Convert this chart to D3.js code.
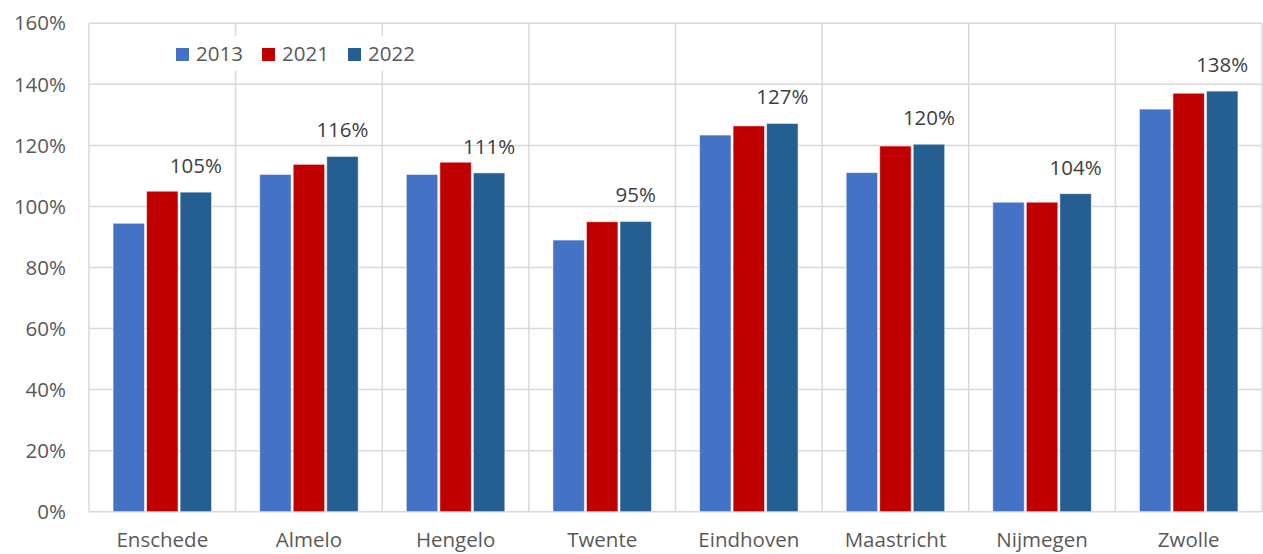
<!DOCTYPE html>
<html>
<head>
<meta charset="utf-8">
<script src="https://cdn.jsdelivr.net/npm/d3@7"></script>
<style>
  html, body { margin: 0; padding: 0; background: #fff; }
  svg { display: block; font-family: "Open Sans", "Noto Sans", sans-serif; }
</style>
</head>
<body>
<svg id="chart" width="1263" height="554"></svg>
<script>
const categories = ["Enschede", "Almelo", "Hengelo", "Twente", "Eindhoven", "Maastricht", "Nijmegen", "Zwolle"];
const seriesNames = ["2013", "2021", "2022"];
const values2013 = [94.5, 110.5, 110.5, 89.0, 123.4, 111.1, 101.4, 131.9];
const values2021 = [105.0, 113.8, 114.5, 95.0, 126.4, 119.8, 101.4, 137.1];
const values2022 = [104.7, 116.4, 111.0, 95.1, 127.2, 120.4, 104.2, 137.8];
const yTicks = [0, 20, 40, 60, 80, 100, 120, 140, 160];
const colors = ["#4472C4", "#C00000", "#255E91"];

const seriesValues = [values2013, values2021, values2022];

const svg = d3.select("#chart");
const pLeft = 89, pRight = 1262, pTop = 23.3, pBottom = 511.7;
const fs = 20.5;

const x0 = d3.scaleBand().domain(categories).range([pLeft, pRight]).padding(0);
const bw = x0.bandwidth();
const x1 = d3.scaleBand().domain(seriesNames).range([bw * 0.157, bw * 0.843]).padding(0);
const y = d3.scaleLinear().domain([0, 160]).range([pBottom, pTop]);

const grid = "#D9D9D9";

// horizontal gridlines
svg.append("g").selectAll("line").data(yTicks).join("line")
  .attr("x1", pLeft).attr("x2", pRight)
  .attr("y1", d => y(d)).attr("y2", d => y(d))
  .attr("stroke", grid).attr("stroke-width", 1.5);

// vertical gridlines at category boundaries
const bounds = categories.map(c => x0(c)).concat([pRight]);
svg.append("g").selectAll("line").data(bounds).join("line")
  .attr("x1", d => d).attr("x2", d => d)
  .attr("y1", pTop).attr("y2", pBottom)
  .attr("stroke", grid).attr("stroke-width", 1.5);

// y tick labels
svg.append("g").selectAll("text").data(yTicks).join("text")
  .attr("x", 66).attr("y", d => y(d))
  .attr("dy", "0.35em")
  .attr("text-anchor", "end")
  .attr("fill", "#595959")
  .attr("font-size", fs)
  .text(d => d + "%");

// bars
const groups = svg.append("g").selectAll("g").data(categories).join("g")
  .attr("transform", c => `translate(${x0(c)},0)`);

groups.selectAll("rect").data((c, i) => seriesNames.map((s, k) => ({ s, k, v: seriesValues[k][i] })))
  .join("rect")
  .attr("x", d => x1(d.s) + 1)
  .attr("width", x1.bandwidth() - 2)
  .attr("y", d => y(d.v))
  .attr("height", d => y(0) - y(d.v))
  .attr("fill", d => colors[d.k])
  .attr("stroke", "#fff")
  .attr("stroke-opacity", 0.6)
  .attr("stroke-width", 1);

// data labels on 2022
groups.append("text")
  .attr("x", x1("2022") + x1.bandwidth() / 2)
  .attr("y", (c, i) => y(values2022[i]) - 19)
  .attr("text-anchor", "middle")
  .attr("fill", "#404040")
  .attr("font-size", fs)
  .text((c, i) => Math.round(values2022[i]) + "%");

// category labels
svg.append("g").selectAll("text").data(categories).join("text")
  .attr("x", c => x0(c) + bw / 2)
  .attr("y", 547)
  .attr("text-anchor", "middle")
  .attr("fill", "#595959")
  .attr("font-size", fs)
  .text(c => c);

// legend
const legend = svg.append("g");
legend.append("rect").attr("x", 165).attr("y", 36).attr("width", 262).attr("height", 35).attr("fill", "#fff");
const legX = [176, 262, 348];
seriesNames.forEach((s, k) => {
  legend.append("rect").attr("x", legX[k]).attr("y", 48).attr("width", 13).attr("height", 13).attr("fill", colors[k]);
  legend.append("text").attr("x", legX[k] + 20).attr("y", 61)
    .attr("fill", "#595959").attr("font-size", fs).text(s);
});
</script>
</body>
</html>
